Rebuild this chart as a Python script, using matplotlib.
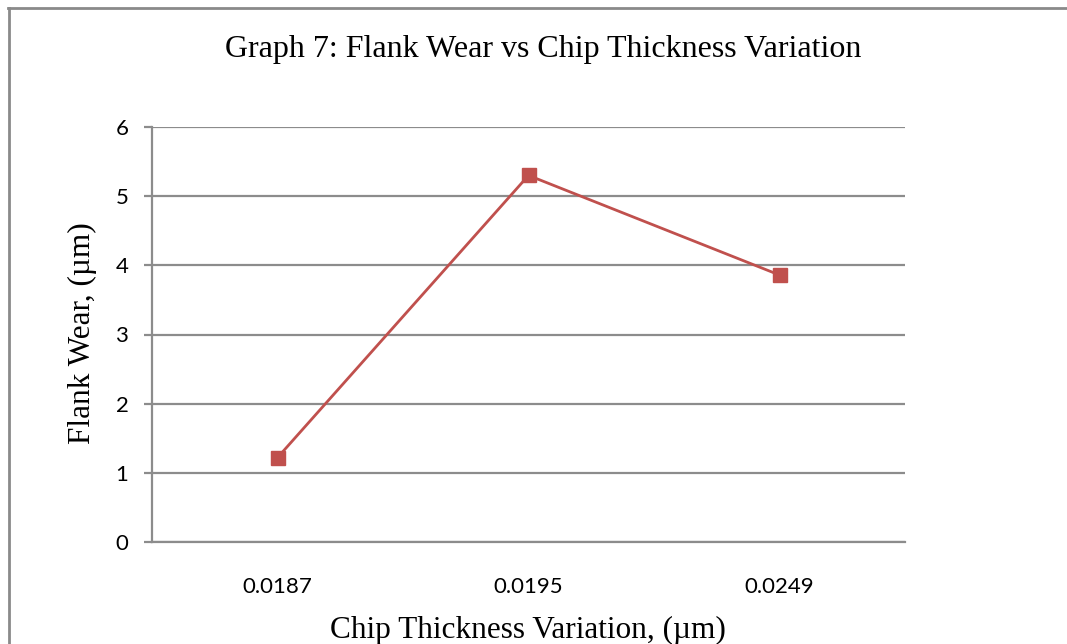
import matplotlib
matplotlib.use("Agg")
import matplotlib.pyplot as plt
from matplotlib.lines import Line2D

categories = ["0.0187", "0.0195", "0.0249"]
flank_wear = [1.22, 5.3, 3.86]
y_ticks = [0, 1, 2, 3, 4, 5, 6]

W, H = 1067, 644
fig = plt.figure(figsize=(W / 100, H / 100), dpi=100)
fig.patch.set_facecolor("white")

# outer chart frame (top and left edges)
frame_c = "#8a8a8a"
fig.add_artist(Line2D([8 / W, 1.0], [1 - 7.5 / H, 1 - 7.5 / H], color=frame_c, lw=2))
fig.add_artist(Line2D([8.5 / W, 8.5 / W], [0, 1 - 7.5 / H], color=frame_c, lw=2))

left, right, top, bottom = 152, 905, 127, 542
ax = fig.add_axes([left / W, 1 - bottom / H, (right - left) / W, (bottom - top) / H])

grid_c = "#8c8c8c"
x = list(range(len(categories)))
ax.set_xlim(-0.5, len(categories) - 0.5)
ax.set_ylim(0, 6)
ax.set_yticks(y_ticks)
ax.set_xticks(x)
ax.set_xticklabels(categories)
ax.yaxis.grid(True, color=grid_c, lw=1.6)
ax.set_axisbelow(True)

for s in ["top", "right"]:
    ax.spines[s].set_visible(False)
ax.spines["left"].set_color(grid_c)
ax.spines["left"].set_linewidth(1.6)
ax.spines["bottom"].set_color(grid_c)
ax.spines["bottom"].set_linewidth(1.6)

ax.tick_params(axis="y", length=6, width=1.6, color=grid_c, pad=11,
               labelsize=16, labelfontfamily="Lato")
ax.tick_params(axis="x", length=0, pad=25, labelsize=16, labelfontfamily="Lato")

ax.plot(x, flank_wear, color="#C0504D", lw=2, marker="s", markersize=10.5,
        markerfacecolor="#C0504D", markeredgecolor="#C0504D", zorder=3)

fig.text(543 / W, 1 - 50 / H, "Graph 7: Flank Wear vs Chip Thickness Variation",
         ha="center", va="center", fontsize=23, family="Liberation Serif")
fig.text(528 / W, 1 - 630 / H, "Chip Thickness Variation, (µm)",
         ha="center", va="center", fontsize=22.5, family="Liberation Serif")
fig.text(82 / W, 1 - 333 / H, "Flank Wear, (µm)", rotation=90,
         ha="center", va="center", fontsize=22.5, family="Liberation Serif")

fig.savefig("out.png", dpi=100)
